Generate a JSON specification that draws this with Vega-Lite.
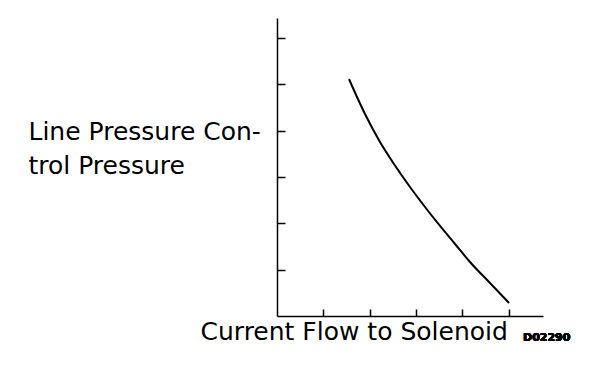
{
  "$schema": "https://vega.github.io/schema/vega-lite/v6.json",
  "width": 266,
  "height": 298,
  "autosize": {"type": "none"},
  "padding": {"left": 277, "top": 18, "right": 65, "bottom": 50},
  "background": "white",
  "config": {"view": {"stroke": null}, "font": "DejaVu Sans"},
  "data": {"values": [
    {"current": 1.555, "pressure": 5.119},
    {"current": 1.728, "pressure": 4.730},
    {"current": 1.901, "pressure": 4.363},
    {"current": 2.225, "pressure": 3.758},
    {"current": 2.527, "pressure": 3.283},
    {"current": 2.873, "pressure": 2.786},
    {"current": 3.197, "pressure": 2.354},
    {"current": 3.521, "pressure": 1.944},
    {"current": 3.845, "pressure": 1.555},
    {"current": 4.168, "pressure": 1.166},
    {"current": 4.600, "pressure": 0.713},
    {"current": 5.011, "pressure": 0.281}
  ]},
  "layer": [
    {
      "mark": {"type": "line", "color": "black", "strokeWidth": 2, "interpolate": "monotone"},
      "encoding": {
        "x": {
          "field": "current", "type": "quantitative",
          "scale": {"domain": [0, 5.745], "nice": false, "zero": false},
          "axis": {
            "values": [1, 2, 3, 4, 5], "labels": false, "grid": false,
            "tickSize": -7, "tickColor": "black", "tickWidth": 1.5,
            "domainColor": "black", "domainWidth": 1.5,
            "title": "Current Flow to Solenoid",
            "titleFont": "DejaVu Sans", "titleFontSize": 25, "titleFontWeight": "normal",
            "titleColor": "black", "titleAlign": "left", "titleAnchor": "start",
            "titleBaseline": "alphabetic", "titleX": -77, "titleY": 23
          }
        },
        "y": {
          "field": "pressure", "type": "quantitative",
          "scale": {"domain": [0, 6.436], "nice": false, "zero": false},
          "axis": {
            "values": [1, 2, 3, 4, 5, 6], "labels": false, "grid": false,
            "tickSize": -8, "tickColor": "black", "tickWidth": 1.5,
            "domainColor": "black", "domainWidth": 1.5,
            "title": ["Line Pressure Con-", "trol Pressure"],
            "titleFont": "DejaVu Sans", "titleFontSize": 25, "titleFontWeight": "normal",
            "titleColor": "black", "titleAngle": 0, "titleAlign": "left",
            "titleAnchor": "start", "titleBaseline": "alphabetic",
            "titleLineHeight": 34, "titleX": -249, "titleY": 121
          }
        }
      }
    },
    {
      "mark": {"type": "text", "text": "D02290", "font": "DejaVu Sans", "fontSize": 11, "fontWeight": "bold", "color": "black", "align": "left", "baseline": "alphabetic"},
      "encoding": {
        "x": {"datum": 5.313, "type": "quantitative"},
        "y": {"datum": -0.54, "type": "quantitative"}
      }
    }
  ]
}
